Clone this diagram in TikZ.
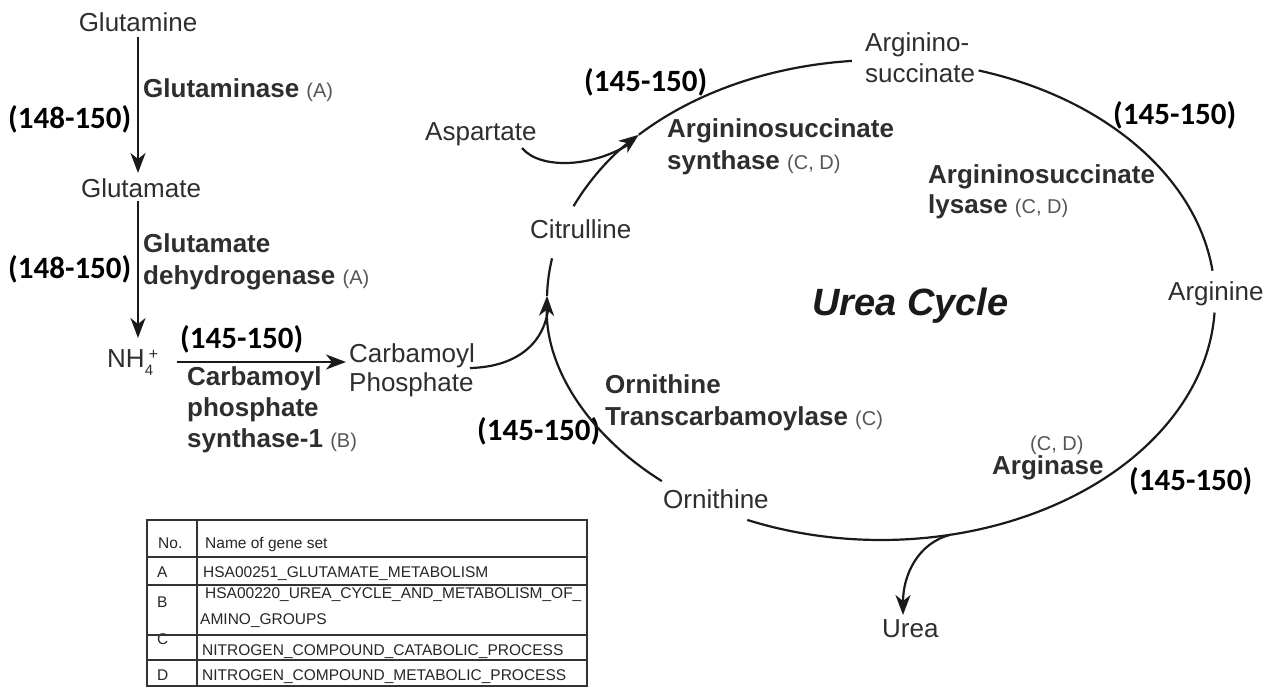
\documentclass[tikz,border=0pt]{standalone}
\usepackage{fontspec}
\setmainfont{Liberation Sans}
\newfontfamily\calfont{Carlito}
\usetikzlibrary{arrows.meta}
\definecolor{txt}{HTML}{2E2E2E}
\definecolor{gsg}{HTML}{555555}
\definecolor{ln}{HTML}{1A1A1A}
\definecolor{tbline}{HTML}{333333}
\newcommand{\fs}[1]{\fontsize{#1}{#1}\selectfont}
\newcommand{\gset}[1]{{\mdseries\fs{20}\color{gsg}#1}}
\begin{document}
\begin{tikzpicture}[x=1pt,y=-1pt,
  lbl/.style={inner sep=0pt, text=txt, font=\fs{26}},
  enz/.style={inner sep=0pt, text=txt, font=\fs{26}\bfseries},
  refno/.style={inner sep=0pt, text=black, font=\calfont\fs{31}\bfseries},
  tbl/.style={inner sep=0pt, text=black!85, font=\fs{15.5}},
  arr/.style={line width=2.2pt, draw=ln, -{Stealth[length=20pt,width=15pt,inset=6pt]}},
  cyc/.style={line width=2.2pt, draw=ln},
  tline/.style={line width=1.3pt, draw=tbline},
]
\useasboundingbox (0,0) rectangle (1276,687);

% ---------------- left pathway ----------------
\node[lbl, anchor=base] (gln) at (138,32) {Glutamine};
\node[enz, anchor=base west] (glnase) at (143,98) {Glutaminase \gset{(A)}};
\node[refno, anchor=base west] (r1) at (8,129) {(148-150)};
\node[lbl, anchor=base] (glu) at (141,197) {Glutamate};
\node[enz, anchor=base west] (gdh1) at (143,252) {Glutamate};
\node[enz, anchor=base west] (gdh2) at (143,284) {dehydrogenase \gset{(A)}};
\node[refno, anchor=base west] (r2) at (8,278) {(148-150)};
\node[lbl, anchor=base west] (nh4) at (107,367) {NH\rlap{\fs{15}\raisebox{-8pt}{4}}\hspace{4pt}{\fs{16}\raisebox{8pt}{+}}};
\node[refno, anchor=base west] (r3) at (180,348) {(145-150)};
\node[enz, anchor=base west] (cps1) at (187,385) {Carbamoyl};
\node[enz, anchor=base west] (cps2) at (187,416) {phosphate};
\node[enz, anchor=base west] (cps3) at (187,447) {synthase-1 \gset{(B)}};
\node[lbl, anchor=base west] (cp1) at (349,362) {Carbamoyl};
\node[lbl, anchor=base west] (cp2) at (349,391) {Phosphate};

\coordinate (g1s) at (138,37);
\coordinate (g2s) at (138,201);
\coordinate (h1) at (177,362);
\draw[arr] (g1s) -- (g1s |- 0,173);
\draw[arr] (g2s) -- (g2s |- 0,338);
\draw[arr] (h1) -- (h1 -| 346,0);

% ---------------- cycle labels ----------------
\node[lbl, anchor=base west] (asp) at (425,141) {Aspartate};
\node[enz, anchor=base west] (ass1) at (667,138) {Argininosuccinate};
\node[enz, anchor=base west] (ass2) at (667,170) {synthase \gset{(C, D)}};
\node[refno, anchor=base west] (r4) at (584,92) {(145-150)};
\node[lbl, anchor=base west] (cit) at (530,238) {Citrulline};
\node[lbl, anchor=base west] (as1) at (865,52) {Arginino-};
\node[lbl, anchor=base west] (as2) at (865,83) {succinate};
\node[refno, anchor=base west] (r5) at (1113,125) {(145-150)};
\node[enz, anchor=base west] (asl1) at (928,184) {Argininosuccinate};
\node[enz, anchor=base west] (asl2) at (928,214) {lysase \gset{(C, D)}};
\node[inner sep=0pt, text=ln, font=\fs{38}\bfseries\itshape, anchor=base west] (uc) at (812,315) {Urea Cycle};
\node[lbl, anchor=base west] (arg) at (1168,300) {Arginine};
\node[enz, anchor=base west] (otc1) at (605,393) {Ornithine};
\node[enz, anchor=base west] (otc2) at (605,425) {Transcarbamoylase \gset{(C)}};
\node[refno, anchor=base west] (r6) at (477,440) {(145-150)};
\node[lbl, anchor=base west] (orn) at (663,508) {Ornithine};
\node[inner sep=0pt, anchor=base west, font=\fs{20}, text=gsg] (cd) at (1030,450) {(C, D)};
\node[enz, anchor=base west] (argase) at (992,474) {Arginase};
\node[refno, anchor=base west] (r7) at (1129,490) {(145-150)};
\node[lbl, anchor=base west] (urea) at (882,637) {Urea};

% ---------------- cycle arcs (ellipse centre (881,300), radii 334 x 240) ----------------
\coordinate (e229) at ({881+334*cos(229)},{300-240*sin(229)});
\coordinate (e179) at ({881+334*cos(179)},{300-240*sin(179)});
\coordinate (e157) at ({881+334*cos(157)},{300-240*sin(157)});
\coordinate (e136) at ({881+334*cos(136.5)},{300-240*sin(136.5)});
\coordinate (e73) at ({881+334*cos(73)},{300-240*sin(73)});
\coordinate (em3) at ({881+334*cos(-3)},{300-240*sin(-3)});
\coordinate (eu) at ({881+334*cos(-78)},{300-240*sin(-78)});

\draw[arr] (e229) arc[start angle=229, end angle=179, x radius=334pt, y radius=240pt];
\draw[cyc] (e179) arc[start angle=179, end angle=170, x radius=334pt, y radius=240pt];
\draw[arr] (e157) arc[start angle=157, end angle=136.5, x radius=334pt, y radius=240pt];
\draw[cyc] (e136) arc[start angle=136.5, end angle=95, x radius=334pt, y radius=240pt];
\draw[cyc] (e73) arc[start angle=73, end angle=7, x radius=334pt, y radius=240pt];
\draw[cyc] (em3) arc[start angle=-3, end angle=-113.6, x radius=334pt, y radius=240pt];

% side branches
\coordinate (cpend) at (470,368);
\draw[cyc] (cpend) .. controls (515,367) and (543,345) .. (548,310);
\coordinate (aspend) at (522,148);
\draw[cyc] (aspend) .. controls (540,170) and (595,168) .. (634,141);
\coordinate (ureatip) at (903,615);
\draw[arr] (eu) .. controls (918,543) and (903,575) .. (ureatip);

% ---------------- table ----------------
\draw[tline] (147,520) rectangle (587,686);
\draw[tline] (147,557) -- (587,557);
\draw[tline] (147,585) -- (587,585);
\draw[tline] (147,635) -- (587,635);
\draw[tline] (147,660) -- (587,660);
\draw[tline] (197,520) -- (197,686);
\node[tbl, anchor=base west] (tno) at (158,548) {No.};
\node[tbl, anchor=base west] (tname) at (205,548) {Name of gene set};
\node[tbl, anchor=base west] (ta) at (157,577) {A};
\node[tbl, anchor=base west] (tat) at (203,577) {HSA00251\_GLUTAMATE\_METABOLISM};
\node[tbl, anchor=base west] (tb) at (157,607) {B};
\node[tbl, anchor=base west] (tbt1) at (205,598) {HSA00220\_UREA\_CYCLE\_AND\_METABOLISM\_OF\_};
\node[tbl, anchor=base west] (tbt2) at (200,624) {AMINO\_GROUPS};
\node[tbl, anchor=base west] (tc) at (157,644) {C};
\node[tbl, anchor=base west] (tct) at (202,655) {NITROGEN\_COMPOUND\_CATABOLIC\_PROCESS};
\node[tbl, anchor=base west] (td) at (157,680) {D};
\node[tbl, anchor=base west] (tdt) at (202,680) {NITROGEN\_COMPOUND\_METABOLIC\_PROCESS};
\draw[tline] (147,635) -- (197,635);
\end{tikzpicture}
\end{document}
